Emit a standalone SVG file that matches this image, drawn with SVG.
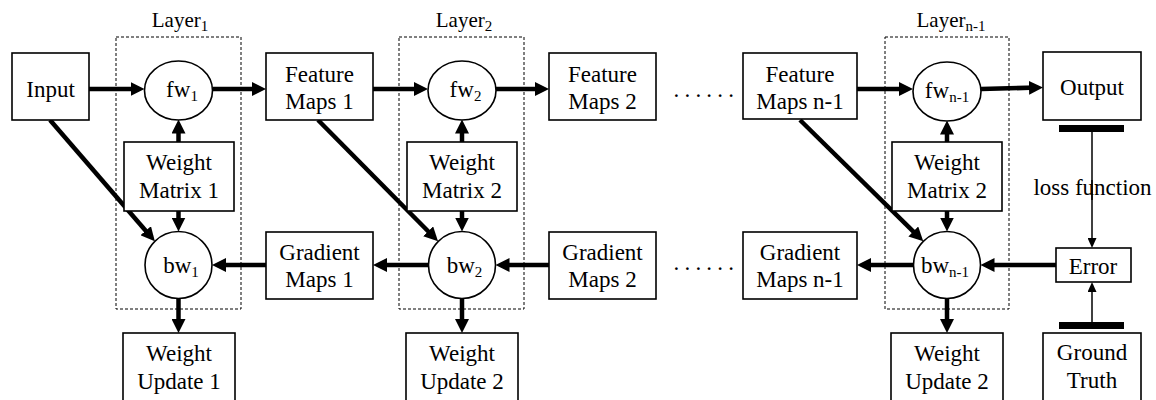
<svg xmlns="http://www.w3.org/2000/svg" width="1156" height="400" viewBox="0 0 1156 400">
  <style>
    .box { fill: #ffffff; stroke: #000000; stroke-width: 1.6; }
    .op { fill: #ffffff; stroke: #000000; stroke-width: 1.6; }
    .layer { fill: none; stroke: #000000; stroke-width: 1; stroke-dasharray: 3 2; }
    text { font-family: "Liberation Serif", "Times New Roman", Times, Tinos, "Noto Serif", "DejaVu Serif", FreeSerif, serif; fill: #000000; }
    .lbl { font-size: 23px; text-anchor: middle; }
    .ttl { font-size: 21px; text-anchor: middle; }
    .dots { font-size: 23px; letter-spacing: 5.2px; }
    .sub { font-size: 15px; }
    .thick { fill: none; stroke: #000000; stroke-width: 4.5; marker-end: url(#head); }
    .thin { fill: none; stroke: #000000; stroke-width: 1.5; marker-end: url(#headThin); }
    .bar { fill: #000000; }
  </style>
  <defs>
    <marker id="head" markerUnits="userSpaceOnUse" viewBox="0 0 14 14" markerWidth="14" markerHeight="14" refX="8" refY="7" orient="auto">
      <path d="M0,0 L14,7 L0,14 z" fill="#000000"/>
    </marker>
    <marker id="headThin" markerUnits="userSpaceOnUse" viewBox="0 0 10 9" markerWidth="10" markerHeight="9" refX="7" refY="4.5" orient="auto">
      <path d="M0,0 L10,4.5 L0,9 z" fill="#000000"/>
    </marker>
  </defs>

  <!-- layer frames -->
  <g id="layer1">
    <rect class="layer" x="116" y="37" width="125" height="272"/>
    <text class="ttl" x="180" y="27">Layer<tspan class="sub" dy="4">1</tspan></text>
  </g>
  <g id="layer2">
    <rect class="layer" x="399" y="37" width="125" height="272"/>
    <text class="ttl" x="464" y="27">Layer<tspan class="sub" dy="4">2</tspan></text>
  </g>
  <g id="layerN1">
    <rect class="layer" x="885" y="37" width="124" height="272"/>
    <text class="ttl" x="951" y="27">Layer<tspan class="sub" dy="4">n-1</tspan></text>
  </g>

  <!-- connectors -->
  <g id="connectors">
    <!-- forward pass -->
    <path class="thick" d="M89,89 H138.5"/>
    <path class="thick" d="M212.5,89 H260"/>
    <path class="thick" d="M373,89 H422"/>
    <path class="thick" d="M496,89 H543"/>
    <path class="thick" d="M857,89 H907"/>
    <path class="thick" d="M981,89 L1037,87.6"/>
    <!-- weights into forward ops -->
    <path class="thick" d="M178.5,142 V125.5"/>
    <path class="thick" d="M462,142 V125.5"/>
    <path class="thick" d="M947,142 V126.5"/>
    <!-- weights into backward ops -->
    <path class="thick" d="M178.5,211 V225.5"/>
    <path class="thick" d="M462,211 V225.5"/>
    <path class="thick" d="M947,211 V225.5"/>
    <!-- backward ops to weight updates -->
    <path class="thick" d="M178.5,298.5 V327"/>
    <path class="thick" d="M462,298.5 V327"/>
    <path class="thick" d="M947,298.5 V327"/>
    <!-- activations into backward ops -->
    <path class="thick" d="M50,120 L150.9,236.8"/>
    <path class="thick" d="M318,120 L433.8,237"/>
    <path class="thick" d="M800,120 L919,237.1"/>
    <!-- backward pass -->
    <path class="thick" d="M266,265 H218"/>
    <path class="thick" d="M428.5,265 H379"/>
    <path class="thick" d="M549,265 H501.5"/>
    <path class="thick" d="M913.5,265 H863"/>
    <path class="thick" d="M1056,265 H986.5"/>
    <!-- loss -->
    <rect class="bar" x="1059" y="125" width="65" height="7"/>
    <path class="thin" d="M1092,132 V245"/>
    <rect class="bar" x="1059" y="322" width="65" height="7"/>
    <path class="thin" d="M1092,322 V285"/>
  </g>

  <!-- nodes -->
  <g id="input">
    <rect class="box" x="12" y="53" width="77" height="67"/>
    <text class="lbl" x="50.5" y="97">Input</text>
  </g>
  <g id="fw1">
    <ellipse class="op" cx="178.5" cy="90.5" rx="34" ry="29.5"/>
    <text class="lbl" x="182" y="97">fw<tspan class="sub" dy="4">1</tspan></text>
  </g>
  <g id="featureMaps1">
    <rect class="box" x="266" y="53" width="107" height="67"/>
    <text class="lbl" x="319.5" y="82">Feature</text>
    <text class="lbl" x="319.5" y="109">Maps 1</text>
  </g>
  <g id="fw2">
    <ellipse class="op" cx="462" cy="90.5" rx="34" ry="29.5"/>
    <text class="lbl" x="465.5" y="97">fw<tspan class="sub" dy="4">2</tspan></text>
  </g>
  <g id="featureMaps2">
    <rect class="box" x="549" y="53" width="107" height="67"/>
    <text class="lbl" x="602.5" y="82">Feature</text>
    <text class="lbl" x="602.5" y="109">Maps 2</text>
  </g>
  <g id="featureMapsN1">
    <rect class="box" x="743" y="53" width="114" height="66"/>
    <text class="lbl" x="800" y="82">Feature</text>
    <text class="lbl" x="800" y="109">Maps n-1</text>
  </g>
  <g id="fwN1">
    <ellipse class="op" cx="947" cy="91.5" rx="34" ry="29.5"/>
    <text class="lbl" x="947" y="98">fw<tspan class="sub" dy="4">n-1</tspan></text>
  </g>
  <g id="output">
    <rect class="box" x="1043" y="52" width="98" height="68"/>
    <text class="lbl" x="1092" y="95">Output</text>
  </g>

  <g id="weightMatrix1">
    <rect class="box" x="124" y="142" width="110" height="69"/>
    <text class="lbl" x="179" y="170">Weight</text>
    <text class="lbl" x="179" y="198">Matrix 1</text>
  </g>
  <g id="weightMatrix2">
    <rect class="box" x="407" y="142" width="110" height="69"/>
    <text class="lbl" x="462" y="170">Weight</text>
    <text class="lbl" x="462" y="198">Matrix 2</text>
  </g>
  <g id="weightMatrixN1">
    <rect class="box" x="892" y="142" width="110" height="69"/>
    <text class="lbl" x="947" y="170">Weight</text>
    <text class="lbl" x="947" y="198">Matrix 2</text>
  </g>

  <g id="bw1">
    <circle class="op" cx="178.5" cy="265" r="33.5"/>
    <text class="lbl" x="181" y="272.5">bw<tspan class="sub" dy="4">1</tspan></text>
  </g>
  <g id="gradientMaps1">
    <rect class="box" x="266" y="232" width="107" height="67"/>
    <text class="lbl" x="319.5" y="260">Gradient</text>
    <text class="lbl" x="319.5" y="287">Maps 1</text>
  </g>
  <g id="bw2">
    <circle class="op" cx="462" cy="265" r="33.5"/>
    <text class="lbl" x="464.5" y="272.5">bw<tspan class="sub" dy="4">2</tspan></text>
  </g>
  <g id="gradientMaps2">
    <rect class="box" x="549" y="232" width="107" height="67"/>
    <text class="lbl" x="602.5" y="260">Gradient</text>
    <text class="lbl" x="602.5" y="287">Maps 2</text>
  </g>
  <g id="gradientMapsN1">
    <rect class="box" x="743" y="232" width="114" height="67"/>
    <text class="lbl" x="800" y="260">Gradient</text>
    <text class="lbl" x="800" y="287">Maps n-1</text>
  </g>
  <g id="bwN1">
    <circle class="op" cx="947" cy="265" r="33.5"/>
    <text class="lbl" x="945" y="272.5">bw<tspan class="sub" dy="4">n-1</tspan></text>
  </g>
  <g id="error">
    <rect class="box" x="1056" y="248" width="75" height="34"/>
    <text class="lbl" x="1093" y="274">Error</text>
  </g>

  <g id="weightUpdate1">
    <rect class="box" x="123" y="333" width="112" height="70"/>
    <text class="lbl" x="179" y="361">Weight</text>
    <text class="lbl" x="179" y="389">Update 1</text>
  </g>
  <g id="weightUpdate2">
    <rect class="box" x="406" y="333" width="112" height="70"/>
    <text class="lbl" x="462" y="361">Weight</text>
    <text class="lbl" x="462" y="389">Update 2</text>
  </g>
  <g id="weightUpdateN1">
    <rect class="box" x="891" y="333" width="112" height="70"/>
    <text class="lbl" x="947" y="361">Weight</text>
    <text class="lbl" x="947" y="389">Update 2</text>
  </g>
  <g id="groundTruth">
    <rect class="box" x="1043" y="333" width="98" height="70"/>
    <text class="lbl" x="1092" y="360">Ground</text>
    <text class="lbl" x="1092" y="388">Truth</text>
  </g>

  <!-- elided layers and loss label -->
  <text class="dots" x="673.5" y="97">......</text>
  <text class="dots" x="673.5" y="270">......</text>
  <text class="lbl" x="1092.5" y="195">loss function</text>
  <!-- loss line runs over the label -->
  <path d="M1092,180 V200" stroke="#000000" stroke-width="1.5"/>
</svg>
